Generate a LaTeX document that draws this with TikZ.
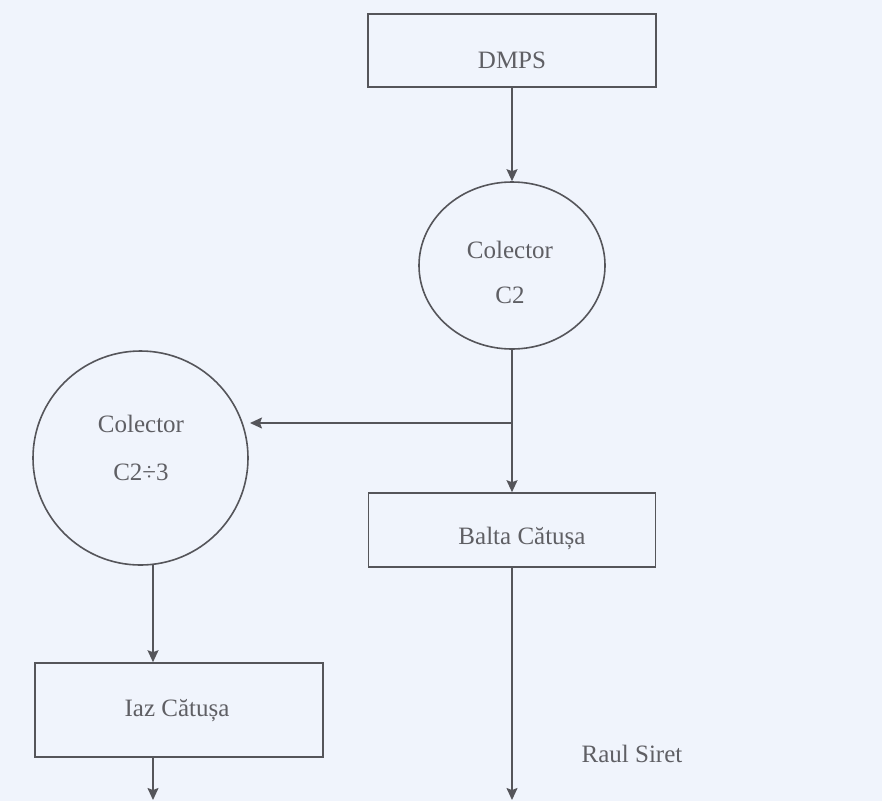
\documentclass[tikz,border=0pt]{standalone}
\usepackage{fontspec}
\setmainfont{Liberation Serif}
\usetikzlibrary{arrows.meta,shapes.geometric}
\definecolor{paper}{RGB}{240,244,252}
\definecolor{ink}{RGB}{85,85,90}
\definecolor{label}{RGB}{95,95,100}
\begin{document}
\begin{tikzpicture}[x=1pt,y=-1pt,
  frame/.style={draw=ink,line width=1.6pt,rectangle,inner sep=0pt},
  basin/.style={draw=ink,line width=1.6pt,ellipse,inner sep=0pt},
  caption/.style={text=label,font=\fontsize{25}{30}\selectfont,anchor=base,inner sep=0pt},
  flow/.style={draw=ink,line width=1.6pt,-{Stealth[length=12pt,width=11pt,inset=2pt]}},
  link/.style={draw=ink,line width=1.6pt}]
  % page area
  \fill[paper] (0,0) rectangle (882,801);
  \useasboundingbox (0,0) rectangle (882,801);

  % boxes and collectors
  \node[frame,minimum width=288pt,minimum height=73pt] (dmps) at (512,50.5) {};
  \node[basin,minimum width=186pt,minimum height=167pt] (c2) at (512,265.5) {};
  \node[basin,minimum width=215pt,minimum height=214pt] (c23) at (140.5,458) {};
  \node[frame,minimum width=287pt,minimum height=74pt] (balta) at (512,530) {};
  \node[frame,minimum width=288pt,minimum height=94pt] (iaz) at (179,710) {};

  % texts
  \node[caption] (tdmps) at (512,68) {DMPS};
  \node[caption] (tc2a) at (510,258) {Colector};
  \node[caption] (tc2b) at (510,303) {C2};
  \node[caption] (tc23a) at (141,432) {Colector};
  \node[caption] (tc23b) at (141,480) {C2÷3};
  \node[caption] (tbalta) at (522,544) {Balta Cătușa};
  \node[caption] (tiaz) at (177,716) {Iaz Cătușa};
  \node[caption] (tsiret) at (632,762) {Raul Siret};

  % helper points
  \coordinate (split) at (512,423);
  \coordinate (c23in) at (250,423);
  \coordinate (c23out) at (153,564);
  \coordinate (iazend) at (153,800);
  \coordinate (baltaend) at (512,800);

  % connectors
  \draw[flow] (dmps.south) -- (c2.north);
  \draw[link] (c2.south) -- (split);
  \draw[flow] (split) -- (balta.north);
  \draw[flow] (split) -- (c23in);
  \draw[flow] (c23out) -- (c23out |- iaz.north);
  \draw[flow] (c23out |- iaz.south) -- (iazend);
  \draw[flow] (balta.south) -- (baltaend);
\end{tikzpicture}
\end{document}
